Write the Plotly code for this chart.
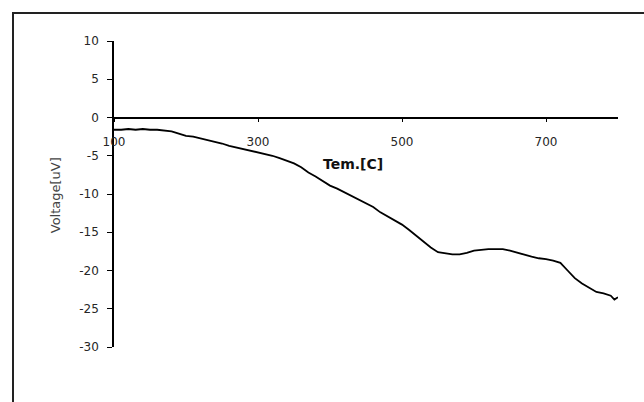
import plotly.graph_objects as go

# Thermoelectric voltage vs. temperature
temperature_c = [100, 110, 120, 130, 140, 150, 160, 170, 180, 190,
                 200, 210, 220, 230, 240, 250, 260, 270, 280, 290,
                 300, 310, 320, 330, 340, 350, 360, 370, 380, 390,
                 400, 410, 420, 430, 440, 450, 460, 470, 480, 490,
                 500, 510, 520, 530, 540, 550, 560, 570, 580, 590,
                 600, 610, 620, 630, 640, 650, 660, 670, 680, 690,
                 700, 710, 720, 730, 740, 750, 760, 770, 780, 790, 795, 800]
voltage_uv = [-1.6, -1.6, -1.5, -1.6, -1.5, -1.6, -1.6, -1.7, -1.8, -2.1,
              -2.4, -2.5, -2.7, -2.9, -3.2, -3.4, -3.7, -3.9, -4.1, -4.3,
              -4.5, -4.8, -5.0, -5.3, -5.6, -6.0, -6.5, -7.2, -7.7, -8.3,
              -8.9, -9.3, -9.8, -10.3, -10.8, -11.2, -11.7, -12.4, -12.9, -13.4,
              -14.0, -14.7, -15.5, -16.3, -17.0, -17.6, -17.8, -17.9, -17.9, -17.7,
              -17.4, -17.3, -17.2, -17.2, -17.2, -17.4, -17.7, -18.0, -18.2, -18.4,
              -18.5, -18.7, -19.0, -20.0, -21.0, -21.7, -22.3, -22.8, -23.0, -23.3, -23.8, -23.5]

x_ticks = [100, 300, 500, 700]
x_tick_labels = ["100", "300", "500", "700"]
y_ticks = [10, 5, 0, -5, -10, -15, -20, -25, -30]
y_tick_labels = ["10", "5", "0", "-5", "-10", "-15", "-20", "-25", "-30"]

W, H = 644, 402
ML, MR, MT, MB = 114, 26, 41, 54.5
pw, ph = W - ML - MR, H - MT - MB

def px_to_paper_x(px):
    return (px - ML) / pw

def px_to_paper_y(py):
    return (H - MB - py) / ph

FONT = "DejaVu Sans, Verdana, sans-serif"

fig = go.Figure()
fig.add_trace(go.Scatter(
    x=temperature_c, y=voltage_uv, mode="lines",
    line=dict(color="black", width=1.8),
    showlegend=False, hoverinfo="skip",
))

tick_font = dict(family=FONT, size=12, color="#262626")

fig.update_layout(
    width=W, height=H,
    margin=dict(l=ML, r=MR, t=MT, b=MB),
    paper_bgcolor="white", plot_bgcolor="white",
    xaxis=dict(
        range=[100, 800], anchor="free", position=0.75,
        showline=True, linecolor="black", linewidth=1.6,
        showgrid=False, zeroline=False,
        ticks="outside", ticklen=4, tickwidth=1.3, tickcolor="black",
        tickvals=x_ticks, ticktext=x_tick_labels,
        tickfont=tick_font, ticklabelstandoff=9,
    ),
    yaxis=dict(
        range=[-30, 10],
        showline=True, linecolor="black", linewidth=1.6,
        showgrid=False, zeroline=False,
        ticks="outside", ticklen=5, tickwidth=1.3, tickcolor="black",
        tickvals=y_ticks, ticktext=y_tick_labels,
        tickfont=tick_font, ticklabelstandoff=6,
    ),
    # chart-area border (right and bottom edges run past the page)
    shapes=[dict(
        type="rect", xref="paper", yref="paper",
        x0=px_to_paper_x(13), x1=px_to_paper_x(660),
        y0=px_to_paper_y(406), y1=px_to_paper_y(13),
        line=dict(color="#222", width=2),
    )],
    annotations=[
        dict(text="Voltage[uV]", xref="paper", yref="paper",
             x=px_to_paper_x(46), y=px_to_paper_y(196),
             textangle=-90, showarrow=False,
             font=dict(family=FONT, size=13, color="#444")),
        dict(text="<b>Tem.[C]</b>", xref="paper", yref="paper",
             x=px_to_paper_x(353), y=px_to_paper_y(164),
             showarrow=False,
             font=dict(family=FONT, size=14, color="#111")),
    ],
)

fig.write_html("out.html")
